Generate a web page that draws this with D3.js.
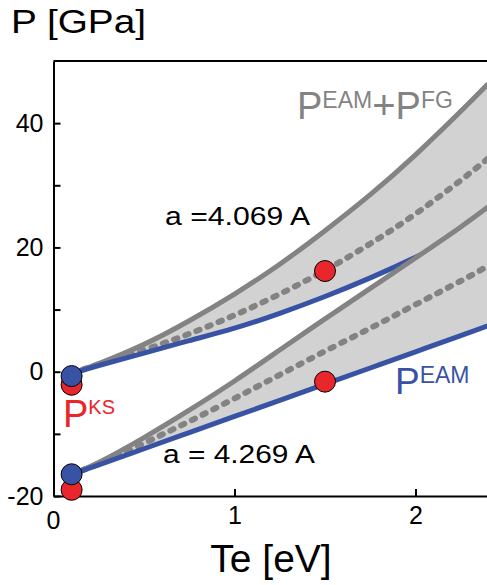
<!DOCTYPE html>
<html>
<head>
<meta charset="utf-8">
<script src="https://cdn.jsdelivr.net/npm/d3@7"></script>
<style>
  body { margin: 0; background: #fff; }
  svg text { font-family: "Liberation Sans", Arial, sans-serif; }
</style>
</head>
<body>
<div id="chart"></div>
<script>
// electron temperature grid [eV]
var te = [0.1, 0.25, 0.5, 0.75, 1.0, 1.25, 1.5, 1.75, 2.0, 2.25, 2.4];

// a = 4.069 A
var eamA   = [-0.3, 1.0, 3.0, 5.0, 7.0, 9.4, 12.1, 15.1, 18.4, 22.0, 24.3];
var eamFgA = [-0.3, 1.3, 4.4, 8.2, 12.5, 17.3, 22.7, 28.5, 34.9, 41.9, 46.3];
var midA   = [-0.3, 1.2, 3.5, 6.1, 9.1, 12.5, 16.3, 20.6, 25.4, 30.8, 34.3];

// a = 4.269 A
var eamB   = [-16.5, -15.0, -12.4, -9.8, -7.2, -4.6, -2.0, 0.6, 3.2, 5.8, 7.4];
var eamFgB = [-16.5, -14.6, -10.6, -6.2, -1.5, 3.5, 8.5, 13.4, 18.3, 23.3, 26.5];
var midB   = [-16.5, -14.8, -11.5, -8.0, -4.3, -0.5, 3.3, 7.0, 10.8, 14.6, 17.0];

// Kohn-Sham points and EAM points at low Te
var ksTe = [0.1, 1.5];
var ksA  = [-2.1, 16.2];
var ksB  = [-19.0, -1.6];
var eamDotTe = [0.1, 0.1];
var eamDot   = [-0.7, -16.5];

var xTicks = [1, 2];
var yTicks = [-20, -10, 0, 10, 20, 30, 40];

var width = 487, height = 585;
var blue = "#3953a4", red = "#e8262b", gray = "#838383", fill = "#d2d2d2";

var svg = d3.select("#chart").append("svg")
    .attr("width", width)
    .attr("height", height);

var x = d3.scaleLinear().domain([0, 2.4]).range([53.5, 487.9]);
var y = d3.scaleLinear().domain([-20, 50]).range([496, 61]);

function rows(ys) {
    return te.map(function(t, i) { return {t: t, v: ys[i]}; });
}

var line = d3.line()
    .x(function(d) { return x(d.t); })
    .y(function(d) { return y(d.v); })
    .curve(d3.curveNatural);

function band(lo, hi, mid) {
    var d = te.map(function(t, i) { return {t: t, lo: lo[i], hi: hi[i]}; });
    var area = d3.area()
        .x(function(d) { return x(d.t); })
        .y0(function(d) { return y(d.lo); })
        .y1(function(d) { return y(d.hi); })
        .curve(d3.curveNatural);
    var g = svg.append("g");
    g.append("path").attr("d", area(d)).attr("fill", fill);
    g.append("path").attr("d", line(rows(hi)))
        .attr("fill", "none").attr("stroke", gray).attr("stroke-width", 5);
    g.append("path").attr("d", line(rows(mid)))
        .attr("fill", "none").attr("stroke", gray).attr("stroke-width", 6)
        .attr("stroke-linecap", "round").attr("stroke-dasharray", "3.5,8.5");
    g.append("path").attr("d", line(rows(lo)))
        .attr("fill", "none").attr("stroke", blue).attr("stroke-width", 5);
}

// upper lattice constant first, lower one covers its tail
band(eamA, eamFgA, midA);
band(eamB, eamFgB, midB);

// axes
svg.append("line")
    .attr("x1", x(0)).attr("x2", width)
    .attr("y1", y(50)).attr("y2", y(50))
    .attr("stroke", "#000").attr("stroke-width", 2);

var xAxis = svg.append("g")
    .attr("transform", "translate(0," + y(-20) + ")")
    .call(d3.axisBottom(x).tickValues(xTicks).tickSizeInner(-7).tickSizeOuter(0)
        .tickPadding(10).tickFormat(d3.format("d")));

var yAxis = svg.append("g")
    .attr("transform", "translate(" + x(0) + ",0)")
    .call(d3.axisLeft(y).tickValues(yTicks).tickSizeInner(-7).tickSizeOuter(0).tickPadding(10)
        .tickFormat(function(d) { return d % 20 === 0 ? d : ""; }));

[xAxis, yAxis].forEach(function(a) {
    a.select(".domain").attr("stroke-width", 2);
    a.selectAll(".tick line").attr("stroke-width", 2);
    a.selectAll("text").attr("font-size", 25).attr("fill", "#000")
        .attr("font-family", "Liberation Sans, Arial, sans-serif");
});

// x "0" label sits under the corner
svg.append("text")
    .attr("x", x(0)).attr("y", 529)
    .attr("text-anchor", "middle").attr("font-size", 25)
    .text("0");

// points
var dots = svg.append("g");
dots.selectAll(".ks").data(ksTe.map(function(t, i) { return {t: t, v: ksA[i]}; })
        .concat(ksTe.map(function(t, i) { return {t: t, v: ksB[i]}; })))
    .enter().append("circle")
    .attr("cx", function(d) { return x(d.t); })
    .attr("cy", function(d) { return y(d.v); })
    .attr("r", 10.5)
    .attr("fill", red).attr("stroke", "#000").attr("stroke-width", 1);
dots.selectAll(".eam").data(eamDotTe.map(function(t, i) { return {t: t, v: eamDot[i]}; }))
    .enter().append("circle")
    .attr("cx", function(d) { return x(d.t); })
    .attr("cy", function(d) { return y(d.v); })
    .attr("r", 10.5)
    .attr("fill", blue).attr("stroke", "#000").attr("stroke-width", 1);

// titles
svg.append("text")
    .attr("x", 11).attr("y", 33)
    .attr("font-size", 33)
    .attr("textLength", 135).attr("lengthAdjust", "spacingAndGlyphs")
    .text("P [GPa]");
svg.append("text")
    .attr("x", 271).attr("y", 572)
    .attr("text-anchor", "middle").attr("font-size", 39)
    .text("Te [eV]");

// annotations
svg.append("text")
    .attr("x", 165).attr("y", 225).attr("font-size", 25.5)
    .attr("textLength", 145).attr("lengthAdjust", "spacingAndGlyphs")
    .text("a =4.069 A");
svg.append("text")
    .attr("x", 163).attr("y", 463).attr("font-size", 25.5)
    .attr("textLength", 152).attr("lengthAdjust", "spacingAndGlyphs")
    .text("a = 4.269 A");

function superLabel(x0, y0, parts, color) {
    var t = svg.append("text").attr("x", x0).attr("y", y0).attr("fill", color);
    parts.forEach(function(p) {
        t.append("tspan")
            .attr("font-size", p.size)
            .attr("dy", p.dy || 0)
            .text(p.text);
    });
    return t;
}

superLabel(63, 427, [
    {text: "P", size: 38},
    {text: "KS", size: 20, dy: -13}
], red);

superLabel(395, 394, [
    {text: "P", size: 37},
    {text: "EAM", size: 23, dy: -11}
], blue);

superLabel(297, 119, [
    {text: "P", size: 38},
    {text: "EAM", size: 23, dy: -11},
    {text: "+", size: 40, dy: 11},
    {text: "P", size: 38},
    {text: "FG", size: 23, dy: -11}
], gray);
</script>
</body>
</html>
